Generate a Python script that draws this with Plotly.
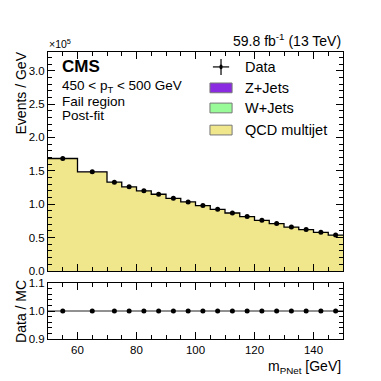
import plotly.graph_objects as go

# bin edges of the m_PNet histogram (GeV)
edges = [50, 60, 70, 75, 80, 85, 90, 95, 100, 105, 110, 115, 120, 125, 130, 135, 140, 145, 150]
bin_centers = [55, 65, 72.5, 77.5, 82.5, 87.5, 92.5, 97.5, 102.5, 107.5,
               112.5, 117.5, 122.5, 127.5, 132.5, 137.5, 142.5, 147.5]

# events / GeV
qcd = [168200, 148200, 132700, 125700, 119700, 114700, 108700, 103200, 97700,
       92200, 86700, 81200, 75700, 70700, 65700, 61700, 57700, 53700]
wjets = [200, 180, 170, 160, 150, 140, 130, 120, 110, 100, 95, 90, 85, 80, 75, 70, 65, 60]
zjets = [100, 90, 80, 80, 70, 70, 60, 60, 50, 50, 45, 45, 40, 40, 35, 35, 30, 30]
data = [168500, 148500, 133000, 126000, 120000, 115000, 109000, 103500, 98000,
        92500, 87000, 81500, 76000, 71000, 66000, 62000, 58000, 54000]
ratio = [1.0] * 18

FONT = "Liberation Sans, Arial, sans-serif"
QCD_C = "#f0e68c"
W_C = "#98fb98"
Z_C = "#8a2be2"


def steps(vals):
    return list(vals) + [vals[-1]]


lvl1 = qcd
lvl2 = [a + b for a, b in zip(lvl1, wjets)]
lvl3 = [a + b for a, b in zip(lvl2, zjets)]

fig = go.Figure()
fig.add_trace(go.Scatter(x=edges, y=steps(lvl1), line_shape="hv", mode="lines",
                         line=dict(width=0), fill="tozeroy", fillcolor=QCD_C,
                         xaxis="x", yaxis="y"))
fig.add_trace(go.Scatter(x=edges, y=steps(lvl2), line_shape="hv", mode="lines",
                         line=dict(width=0), fill="tonexty", fillcolor=W_C,
                         xaxis="x", yaxis="y"))
fig.add_trace(go.Scatter(x=edges, y=steps(lvl3), line_shape="hv", mode="lines",
                         line=dict(width=0), fill="tonexty", fillcolor=Z_C,
                         xaxis="x", yaxis="y"))
fig.add_trace(go.Scatter(x=edges, y=steps(lvl3), line_shape="hv", mode="lines",
                         line=dict(color="black", width=1.3),
                         xaxis="x", yaxis="y"))
fig.add_trace(go.Scatter(x=bin_centers, y=data, mode="markers",
                         marker=dict(color="black", size=5),
                         xaxis="x", yaxis="y"))

# ratio panel
fig.add_trace(go.Scatter(x=[50, 150], y=[1, 1], mode="lines",
                         line=dict(color="#222222", width=1),
                         xaxis="x2", yaxis="y2"))
fig.add_trace(go.Scatter(x=bin_centers, y=ratio, mode="markers",
                         marker=dict(color="black", size=5),
                         xaxis="x2", yaxis="y2"))

ytick_vals = [i * 50000 for i in range(7)]
ytick_text = ["%.1f" % (v / 1e5) for v in ytick_vals]

axis_common = dict(showline=True, linecolor="black", linewidth=1, mirror="ticks",
                   ticks="inside", ticklen=7, tickcolor="black", showgrid=False,
                   zeroline=False, tickfont=dict(family=FONT, size=11.5, color="black"))

# the page body has an 8px margin, so the figure is sized to fit the window
fig.update_layout(
    width=373, height=373,
    margin=dict(l=40, r=38, t=44, b=42),
    plot_bgcolor="white", paper_bgcolor="white",
    showlegend=False,
    xaxis=dict(range=[50, 150], domain=[0, 1], anchor="y", showticklabels=False,
               dtick=20, tick0=0,
               minor=dict(dtick=5, ticklen=4, ticks="inside", tickcolor="black"),
               **axis_common),
    yaxis=dict(range=[0, 328000], domain=[0.237, 1], anchor="x",
               tickvals=ytick_vals, ticktext=ytick_text,
               minor=dict(dtick=10000, ticklen=4, ticks="inside", tickcolor="black"),
               **axis_common),
    xaxis2=dict(range=[50, 150], domain=[0, 1], anchor="y2", dtick=20, tick0=0,
                minor=dict(dtick=5, ticklen=4, ticks="inside", tickcolor="black"),
                **axis_common),
    yaxis2=dict(range=[0.9, 1.1], domain=[0, 0.195], anchor="x2",
                tickvals=[0.9, 1.0, 1.1], ticktext=["0.9", "1.0", "1.1"],
                minor=dict(dtick=0.02, ticklen=4, ticks="inside", tickcolor="black"),
                **axis_common),
)

ann = []
tf = dict(family=FONT, color="black")
ann.append(dict(text="Events / GeV", textangle=-90, xref="paper", yref="paper",
                x=-0.092, y=1.01, xanchor="center", yanchor="top", showarrow=False,
                font=dict(size=14, **tf)))
ann.append(dict(text="Data / MC", textangle=-90, xref="paper", yref="paper",
                x=-0.092, y=0.0975, xanchor="center", yanchor="middle", showarrow=False,
                font=dict(size=14, **tf)))
ann.append(dict(text="m<sub>PNet</sub> [GeV]", xref="paper", yref="paper",
                x=1.0, y=-0.058, xanchor="right", yanchor="top", showarrow=False,
                font=dict(size=14, **tf)))
ann.append(dict(text="×10<sup>5</sup>", xref="paper", yref="paper",
                x=-0.005, y=1.0, xanchor="left", yanchor="bottom", showarrow=False,
                font=dict(size=10.5, **tf)))
ann.append(dict(text="59.8 fb<sup>-1</sup> (13 TeV)", xref="paper", yref="paper",
                x=1.0, y=1.005, xanchor="right", yanchor="bottom", showarrow=False,
                font=dict(size=14, **tf)))
ann.append(dict(text="<b>CMS</b>", xref="paper", yref="paper",
                x=0.042, y=0.948, xanchor="left", yanchor="middle", showarrow=False,
                font=dict(size=17, **tf)))
ann.append(dict(text="450 < p<sub>T</sub> < 500 GeV", xref="paper", yref="paper",
                x=0.042, y=0.879, xanchor="left", yanchor="middle", showarrow=False,
                font=dict(size=13.5, **tf)))
for txt, yy in [("Fail region", 0.827), ("Post-fit", 0.779)]:
    ann.append(dict(text=txt, xref="paper", yref="paper", x=0.042, y=yy,
                    xanchor="left", yanchor="middle", showarrow=False,
                    font=dict(size=13.5, **tf)))

# legend
leg_y = [0.948, 0.875, 0.805, 0.728]
for txt, yy in zip(["Data", "Z+Jets", "W+Jets", "QCD multijet"], leg_y):
    ann.append(dict(text=txt, xref="paper", yref="paper", x=0.662, y=yy,
                    xanchor="left", yanchor="middle", showarrow=False,
                    font=dict(size=14.5, **tf)))

shapes = []
for col, yy in zip([Z_C, W_C, QCD_C], leg_y[1:]):
    shapes.append(dict(type="rect", xref="paper", yref="paper",
                       x0=0.549, x1=0.624, y0=yy - 0.017, y1=yy + 0.017,
                       fillcolor=col, line=dict(color="#777777", width=1)))
shapes.append(dict(type="line", xref="paper", yref="paper", x0=0.559, x1=0.614,
                   y0=leg_y[0], y1=leg_y[0], line=dict(color="black", width=1.2)))
shapes.append(dict(type="line", xref="paper", yref="paper", x0=0.5865, x1=0.5865,
                   y0=leg_y[0] - 0.028, y1=leg_y[0] + 0.028,
                   line=dict(color="black", width=1.2)))
shapes.append(dict(type="circle", xref="paper", yref="paper", x0=0.581, x1=0.592,
                   y0=leg_y[0] - 0.0085, y1=leg_y[0] + 0.0085,
                   fillcolor="black", line=dict(color="black", width=0)))

fig.update_layout(annotations=ann, shapes=shapes)

fig.write_html("out.html")
